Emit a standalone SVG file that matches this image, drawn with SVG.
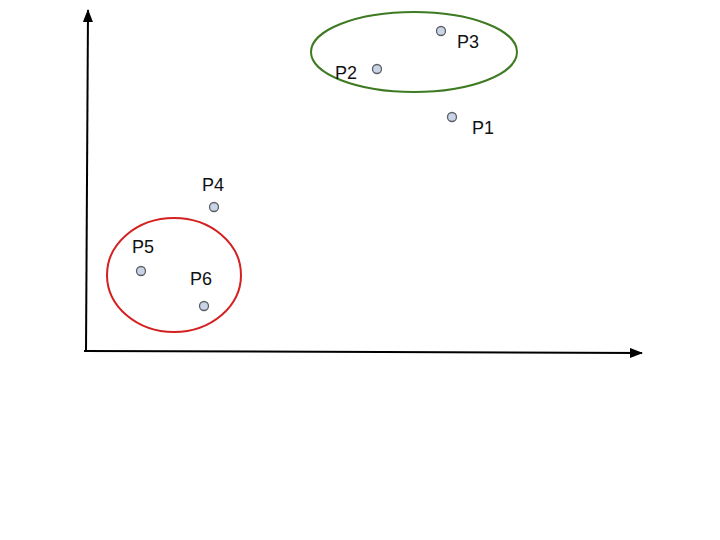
<svg xmlns="http://www.w3.org/2000/svg" width="720" height="540" viewBox="0 0 720 540">
<style>
.pt{fill:#c9d4e6;stroke:#5a5f66;stroke-width:1.3}
.lbl{font-family:"Liberation Sans",Arial,sans-serif;font-size:18px;fill:#111}
.axis{stroke:#000;stroke-width:2;fill:none}
</style>
<defs>
<marker id="ah" markerWidth="13" markerHeight="10" refX="12" refY="5" orient="auto" markerUnits="userSpaceOnUse" viewBox="0 0 13 10">
<path d="M0,0 L13,5 L0,10 Z" fill="#000"/>
</marker>
</defs>
<rect width="720" height="540" fill="#fff"/>
<g id="connectors">
<line class="axis" x1="86" y1="352" x2="88" y2="10" marker-end="url(#ah)"/>
<line class="axis" x1="84" y1="351" x2="642" y2="353" marker-end="url(#ah)"/>
</g>
<g id="cluster-green"><ellipse cx="414" cy="52" rx="103" ry="40" fill="none" stroke="#3d7a22" stroke-width="2"/></g>
<g id="cluster-red"><ellipse cx="174" cy="275" rx="67" ry="57" fill="none" stroke="#d42020" stroke-width="2"/></g>
<g id="P1"><circle class="pt" cx="452" cy="117" r="4.5"/><text class="lbl" x="472" y="134">P1</text></g>
<g id="P2"><circle class="pt" cx="377" cy="69" r="4.5"/><text class="lbl" x="335" y="79">P2</text></g>
<g id="P3"><circle class="pt" cx="441" cy="31" r="4.5"/><text class="lbl" x="457" y="48">P3</text></g>
<g id="P4"><circle class="pt" cx="214" cy="207" r="4.5"/><text class="lbl" x="202" y="191">P4</text></g>
<g id="P5"><circle class="pt" cx="141" cy="271" r="4.5"/><text class="lbl" x="132" y="253">P5</text></g>
<g id="P6"><circle class="pt" cx="204" cy="306" r="4.5"/><text class="lbl" x="190" y="285">P6</text></g>
</svg>
